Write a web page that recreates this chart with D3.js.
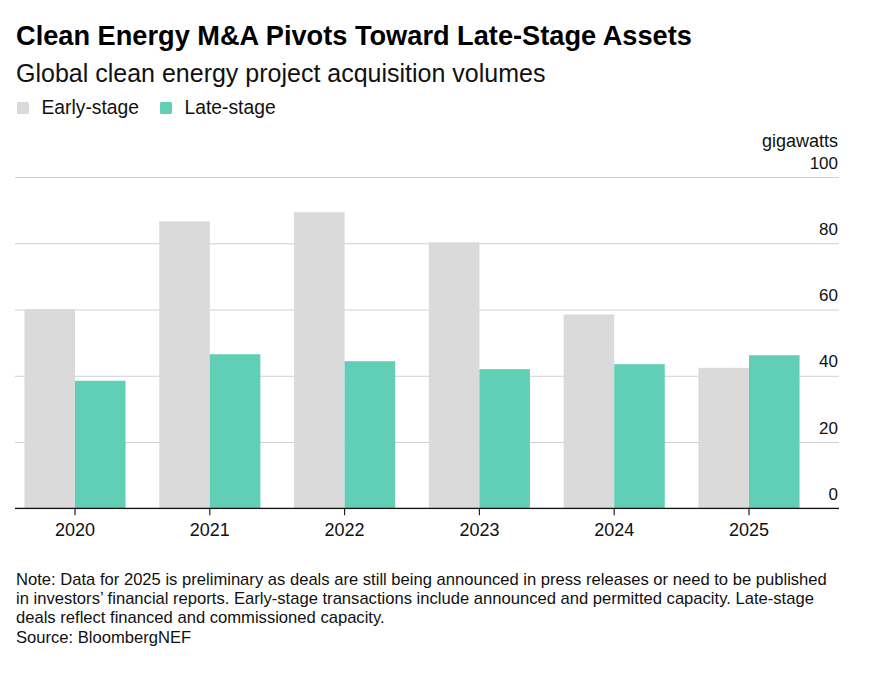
<!DOCTYPE html>
<html>
<head>
<meta charset="utf-8">
<script src="https://cdn.jsdelivr.net/npm/d3@7"></script>
<style>
  html, body { margin: 0; padding: 0; background: #fff; }
  svg { display: block; font-family: "Liberation Sans", Arial, sans-serif; }
</style>
</head>
<body>
<svg id="chart" width="892" height="680"></svg>
<script>
const years = ["2020", "2021", "2022", "2023", "2024", "2025"];
const seriesNames = ["Early-stage", "Late-stage"];
const earlyStage = [60.1, 86.6, 89.4, 80.3, 58.5, 42.4];
const lateStage = [38.5, 46.5, 44.4, 42.0, 43.5, 46.2];
const yTicks = [0, 20, 40, 60, 80, 100];
const noteLines = [
  "Note: Data for 2025 is preliminary as deals are still being announced in press releases or need to be published",
  "in investors\u2019 financial reports. Early-stage transactions include announced and permitted capacity. Late-stage",
  "deals reflect financed and commissioned capacity.",
  "Source: BloombergNEF"
];

const colors = { "Early-stage": "#dadada", "Late-stage": "#60cfb6" };
const svg = d3.select("#chart");

// Title, subtitle
svg.append("text").attr("x", 16).attr("y", 45)
  .attr("font-size", 27.2).attr("font-weight", "bold").attr("fill", "#000")
  .text("Clean Energy M&A Pivots Toward Late-Stage Assets");
svg.append("text").attr("x", 16).attr("y", 82)
  .attr("font-size", 25).attr("fill", "#111")
  .text("Global clean energy project acquisition volumes");

// Legend
const legendX = [17, 160];
seriesNames.forEach((s, i) => {
  svg.append("rect").attr("x", legendX[i]).attr("y", 102).attr("width", 12).attr("height", 12)
    .attr("rx", 1.5).attr("fill", colors[s]);
  svg.append("text").attr("x", legendX[i] + 24.5).attr("y", 113.5)
    .attr("font-size", 19.3).attr("fill", "#111").text(s);
});

// Scales
const x0 = d3.scaleBand().domain(years).range([7.6, 816.4]).paddingInner(0.25).paddingOuter(0.125);
const x1 = d3.scaleBand().domain(seriesNames).range([0, x0.bandwidth()]);
const y = d3.scaleLinear().domain([0, 100]).range([508.3, 177]);

// Gridlines + y labels
const gridLeft = 15, gridRight = 839;
const yAxis = d3.axisRight(y).tickValues(yTicks).tickSize(-(gridRight - gridLeft)).tickFormat(d3.format("d"));
const gy = svg.append("g").attr("transform", `translate(${gridRight},0)`).call(yAxis);
gy.select(".domain").remove();
gy.selectAll(".tick line").attr("stroke", "#d0d0d0").attr("stroke-width", 1);
gy.selectAll(".tick text")
  .attr("x", -1).attr("dy", null).attr("y", -9)
  .attr("text-anchor", "end").attr("font-size", 17).attr("fill", "#111")
  .attr("font-family", "Liberation Sans, Arial, sans-serif");

svg.append("text").attr("x", gridRight - 1).attr("y", 146.5)
  .attr("text-anchor", "end").attr("font-size", 18).attr("fill", "#111").text("gigawatts");

// Bars
const rows = years.map((yr, i) => ({ year: yr, values: [
  { key: "Early-stage", value: earlyStage[i] },
  { key: "Late-stage", value: lateStage[i] }
]}));

svg.append("g").selectAll("g").data(rows).join("g")
  .attr("transform", d => `translate(${x0(d.year)},0)`)
  .selectAll("rect").data(d => d.values).join("rect")
  .attr("x", d => x1(d.key))
  .attr("width", x1.bandwidth())
  .attr("y", d => y(d.value))
  .attr("height", d => y(0) - y(d.value))
  .attr("fill", d => colors[d.key]);

// Baseline
svg.append("line").attr("x1", gridLeft).attr("x2", gridRight)
  .attr("y1", y(0)).attr("y2", y(0)).attr("stroke", "#111").attr("stroke-width", 1.2);

// X axis
const xAxis = d3.axisBottom(x0).tickSize(7).tickPadding(8).tickSizeOuter(0);
const gx = svg.append("g").attr("transform", `translate(0,${y(0)})`).call(xAxis);
gx.select(".domain").remove();
gx.selectAll(".tick line").attr("stroke", "#222").attr("stroke-width", 1.2);
gx.selectAll(".tick text").attr("font-size", 18).attr("fill", "#111")
  .attr("font-family", "Liberation Sans, Arial, sans-serif");

// Notes
svg.append("g").selectAll("text").data(noteLines).join("text")
  .attr("x", 16).attr("y", (d, i) => 585 + i * 19.2)
  .attr("font-size", 16.6).attr("fill", "#111")
  .text(d => d);
</script>
</body>
</html>
